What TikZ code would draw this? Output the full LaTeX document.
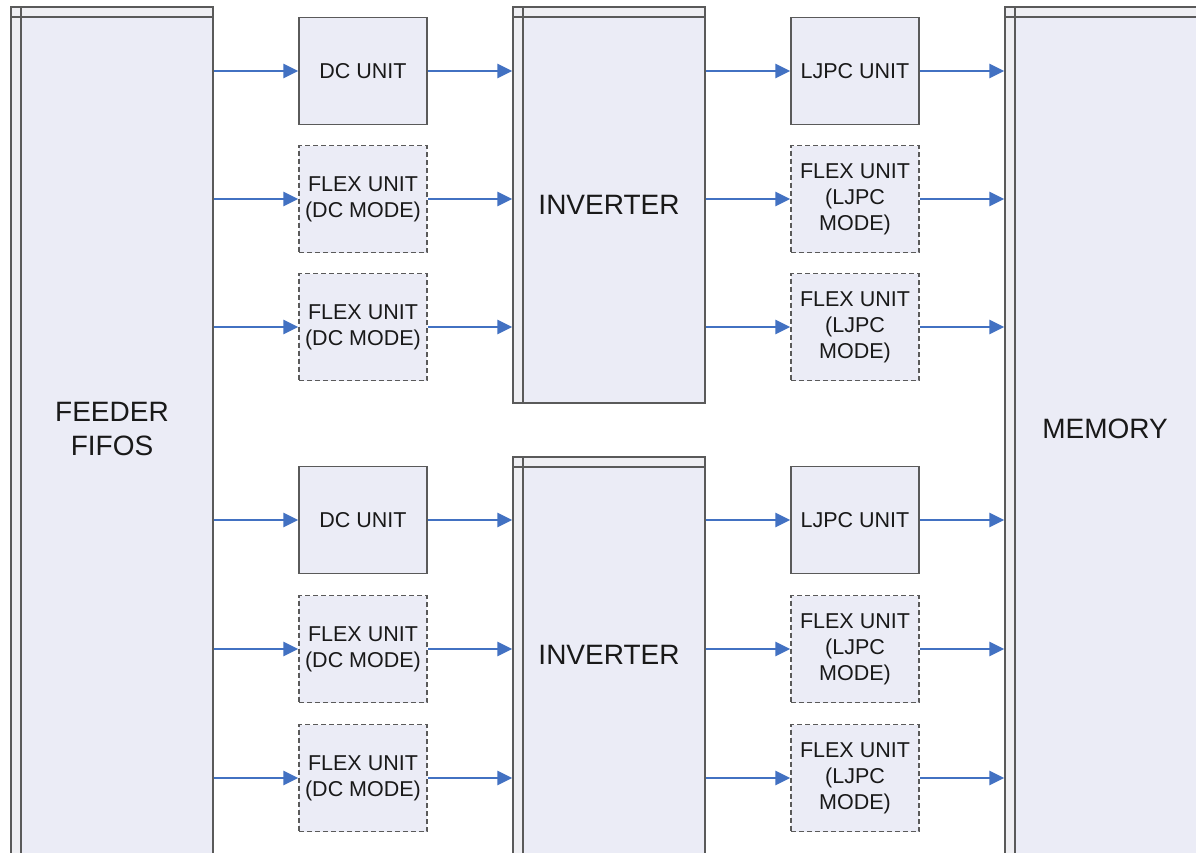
\documentclass[tikz,border=0pt]{standalone}
\usepackage{fontspec}
\setmainfont{Liberation Sans}
\usetikzlibrary{arrows.meta}
\definecolor{boxfill}{RGB}{235,236,246}
\definecolor{headfill}{RGB}{239,239,243}
\definecolor{bordercol}{RGB}{90,90,90}
\definecolor{arrowcol}{RGB}{66,113,194}
\definecolor{txtcol}{RGB}{25,25,25}
\tikzset{
  unitbox/.style={draw=bordercol, line width=1.3pt, fill=boxfill, inner sep=0pt,
    minimum width=128pt, minimum height=107pt, align=center, text=txtcol,
    font=\fontsize{21.5}{26}\selectfont},
  flexbox/.style={unitbox, dash pattern=on 5pt off 3pt},
  bigtext/.style={inner sep=0pt, align=center, text=txtcol, font=\fontsize{28}{34}\selectfont},
  bigblock/.style={draw=bordercol, line width=1.5pt, fill=boxfill, inner sep=0pt,
    path picture={
      \fill[headfill] (path picture bounding box.north west) rectangle ([yshift=-10pt]path picture bounding box.north east);
      \fill[headfill] (path picture bounding box.north west) rectangle ([xshift=10pt]path picture bounding box.south west);
      \draw[bordercol, line width=1.5pt] ([yshift=-10pt]path picture bounding box.north west) -- ([yshift=-10pt]path picture bounding box.north east);
      \draw[bordercol, line width=1.5pt] ([xshift=10pt]path picture bounding box.north west) -- ([xshift=10pt]path picture bounding box.south west);
    }},
  arr/.style={draw=arrowcol, line width=2.8pt, -{Triangle[length=15pt,width=14pt]}}
}
\begin{document}
\begin{tikzpicture}[x=1pt,y=-1pt]
\clip (0,0) rectangle (1196,852);
\fill[white] (0,0) rectangle (1196,852);
% big blocks (run off the bottom edge)
\node[bigblock, minimum width=202pt, minimum height=863pt] (feeder) at (112,438.5) {};
\node[bigtext] (feedertxt) at (112,428.5) {FEEDER\\FIFOS};
\node[bigblock, minimum width=200pt, minimum height=863pt] (memory) at (1105,438.5) {};
\node[bigtext] (memorytxt) at (1105,428.5) {MEMORY};
\node[bigblock, minimum width=192pt, minimum height=396pt] (inv1) at (609,205) {};
\node[bigtext] (inv1txt) at (609,205) {INVERTER};
\node[bigblock, minimum width=192pt, minimum height=413pt] (inv2) at (609,663.5) {};
\node[bigtext] (inv2txt) at (609,655) {INVERTER};
% DC column
\node[unitbox] (dc1) at (363,71) {DC UNIT};
\node[flexbox] (fa1) at (363,199) {FLEX UNIT\\(DC MODE)};
\node[flexbox] (fa2) at (363,327) {FLEX UNIT\\(DC MODE)};
\node[unitbox] (dc2) at (363,520) {DC UNIT};
\node[flexbox] (fa3) at (363,649) {FLEX UNIT\\(DC MODE)};
\node[flexbox] (fa4) at (363,778) {FLEX UNIT\\(DC MODE)};
% LJPC column
\node[unitbox] (lj1) at (855,71) {LJPC UNIT};
\node[flexbox] (fb1) at (855,199) {FLEX UNIT\\(LJPC\\MODE)};
\node[flexbox] (fb2) at (855,327) {FLEX UNIT\\(LJPC\\MODE)};
\node[unitbox] (lj2) at (855,520) {LJPC UNIT};
\node[flexbox] (fb3) at (855,649) {FLEX UNIT\\(LJPC\\MODE)};
\node[flexbox] (fb4) at (855,778) {FLEX UNIT\\(LJPC\\MODE)};
% arrows feeder -> DC column -> inverter
\foreach \b/\inv in {dc1/inv1, fa1/inv1, fa2/inv1, dc2/inv2, fa3/inv2, fa4/inv2}{
  \draw[arr] (\b.west -| feeder.east) -- (\b.west);
  \draw[arr] (\b.east) -- (\b.east -| \inv.west);
}
% arrows inverter -> LJPC column -> memory
\foreach \b/\inv in {lj1/inv1, fb1/inv1, fb2/inv1, lj2/inv2, fb3/inv2, fb4/inv2}{
  \draw[arr] (\b.west -| \inv.east) -- (\b.west);
  \draw[arr] (\b.east) -- (\b.east -| memory.west);
}
\end{tikzpicture}
\end{document}
